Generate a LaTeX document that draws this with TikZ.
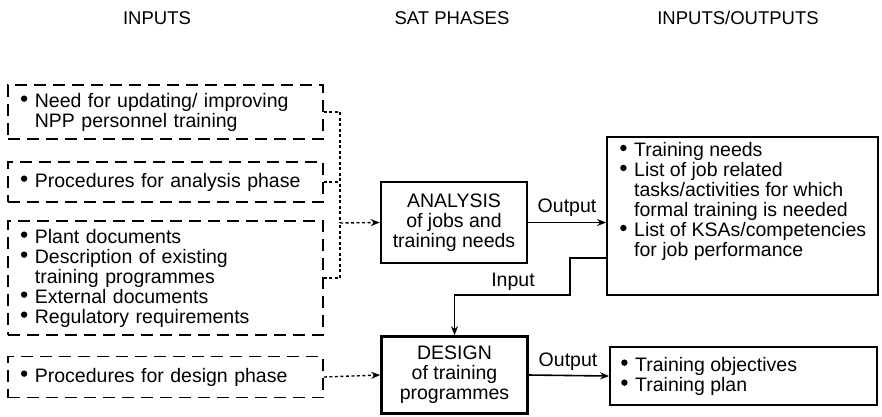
\documentclass[tikz,border=0pt]{standalone}
\usepackage{fontspec}
\setmainfont{Liberation Sans}
\usetikzlibrary{arrows.meta}
\newcommand{\bl}{\makebox[14pt][l]{\raisebox{5.2pt}{\tikz[baseline=0pt]\fill (0pt,3.2pt) circle[radius=3.2pt];}}}
\newcommand{\ind}{\hspace*{14pt}}
\begin{document}
\begin{tikzpicture}[x=1pt,y=-1pt,
  every node/.style={font=\fontsize{19.5}{20}\selectfont},
  dashbox/.style={draw, line width=1.8pt, dash pattern=on 12pt off 7pt, minimum width=315pt, anchor=west, align=left, inner xsep=13pt, text width=289pt},
  phasebox/.style={draw, line width=2.6pt, minimum width=146pt, align=center},
  outbox/.style={draw, line width=1.8pt},
  hdr/.style={font=\fontsize{18.5}{20}\selectfont},
  dotline/.style={line width=1.4pt, dash pattern=on 3pt off 2.5pt},
  tip/.style={-{Stealth[length=9pt,width=7pt]}},
  solid line/.style={line width=1.6pt},
  lbl/.style={inner sep=0pt}
]
\useasboundingbox (0,0) rectangle (882,416);
% headers
\node[hdr] (h1) at (157,18) {INPUTS};
\node[hdr] (h2) at (452,18) {SAT PHASES};
\node[hdr] (h3) at (738,18) {INPUTS/OUTPUTS};
% input boxes
\node[dashbox, minimum height=54pt] (b1) at (7,112) {\bl Need for updating/ improving\\\ind NPP personnel training};
\node[dashbox, minimum height=40pt] (b2) at (7,182) {\bl Procedures for analysis phase};
\node[dashbox, minimum height=114pt] (b3) at (7,278) {\bl Plant documents\\\bl Description of existing\\\ind training programmes\\\bl External documents\\\bl Regulatory requirements};
\node[dashbox, minimum height=41pt] (b4) at (7,377) {\bl Procedures for design phase};
% phases
\node[phasebox, minimum height=81pt] (an) at (454,222.5) {ANALYSIS\\of jobs and\\training needs};
\node[phasebox, minimum height=77pt] (de) at (454.5,375) {DESIGN\\of training\\programmes};
% output boxes
\node[outbox, minimum width=271pt, minimum height=158pt] (r1) at (742.5,216) {};
\node[lbl, anchor=north west, align=left] (r1t) at (620,142) {\bl Training needs\\\bl List of job related\\\ind tasks/activities for which\\\ind formal training is needed\\\bl List of KSAs/competencies\\\ind for job performance};
\node[outbox, minimum width=267pt, minimum height=58pt] (r2) at (743.5,376) {};
\node[lbl, anchor=west, align=left] (r2t) at (621,376) {\bl Training objectives\\\bl Training plan};
% dotted connectors
\coordinate (ja) at (340,223);
\draw[dotline] (b1.east) -| (ja);
\draw[dotline] (b3.east) -| (ja);
\draw[dotline] (b2.east) -- (b2.east -| ja);
\draw[dotline, tip] (ja) -- (an.west);
\draw[dotline, tip] (b4.east) -- (de.west);
% solid connectors
\draw[solid line, tip] (an.east) -- (an.east -| r1.west);
\draw[solid line, tip] (de.east) -- (r2.west);
\coordinate (ri) at (r1.west |- 0,258);
\coordinate (ik) at (570,295);
\draw[solid line, tip] (ri) -| (ik) -| (de.north);
% labels
\node[lbl] (o1) at (567,208) {Output};
\node[lbl] (o2) at (568,362) {Output};
\node[lbl] (in) at (513,282) {Input};
\end{tikzpicture}
\end{document}
